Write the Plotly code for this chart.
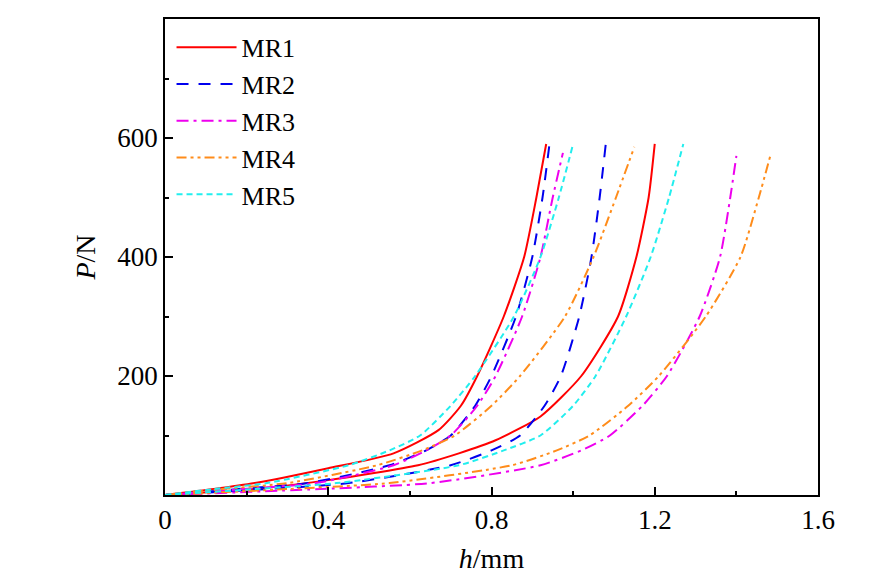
import plotly.graph_objects as go

names = ["MR1", "MR2", "MR3", "MR4", "MR5"]
colors = ["#ff0000", "#0000ee", "#ee00ee", "#ff8c1a", "#22eeee"]
dashes = ["solid", "12px,10px", "12px,5px,3px,5px", "10px,4px,3px,4px,3px,4px", "6px,4px"]

P_left = {
 "MR1": [0, 10, 20, 45, 70, 109, 150, 200, 300, 400, 500, 590],
 "MR2": [0, 10, 20, 50, 75, 100, 150, 200, 300, 400, 500, 595],
 "MR3": [0, 10, 20, 50, 75, 100, 150, 200, 300, 400, 500, 575],
 "MR4": [0, 10, 20, 50, 75, 100, 150, 200, 300, 400, 500, 585],
 "MR5": [0, 10, 20, 50, 75, 100, 150, 200, 300, 400, 500, 590],
}
h_left = {
 "MR1": [0, 0.12, 0.22, 0.40, 0.56, 0.67, 0.725, 0.765, 0.83, 0.88, 0.91, 0.934],
 "MR2": [0, 0.18, 0.35, 0.55, 0.64, 0.70, 0.76, 0.80, 0.86, 0.90, 0.925, 0.943],
 "MR3": [0, 0.19, 0.37, 0.56, 0.64, 0.70, 0.765, 0.81, 0.875, 0.92, 0.95, 0.975],
 "MR4": [0, 0.14, 0.30, 0.52, 0.63, 0.71, 0.80, 0.87, 0.98, 1.05, 1.105, 1.15],
 "MR5": [0, 0.12, 0.25, 0.45, 0.55, 0.625, 0.70, 0.76, 0.855, 0.92, 0.965, 1.0],
}
P_right = {
 "MR1": [0, 10, 25, 50, 70, 92, 132, 200, 300, 400, 500, 590],
 "MR2": [0, 10, 20, 50, 75, 100, 150, 200, 300, 400, 500, 590],
 "MR3": [0, 10, 20, 50, 75, 100, 150, 200, 300, 400, 500, 570],
 "MR4": [0, 10, 20, 50, 75, 100, 150, 200, 300, 400, 500, 575],
 "MR5": [0, 10, 20, 50, 75, 100, 150, 200, 300, 400, 500, 590],
}
h_right = {
 "MR1": [0, 0.22, 0.40, 0.62, 0.72, 0.81, 0.92, 1.02, 1.11, 1.155, 1.185, 1.20],
 "MR2": [0, 0.25, 0.45, 0.70, 0.80, 0.87, 0.93, 0.97, 1.015, 1.045, 1.065, 1.08],
 "MR3": [0, 0.38, 0.65, 0.92, 1.02, 1.09, 1.17, 1.23, 1.31, 1.36, 1.385, 1.40],
 "MR4": [0, 0.30, 0.55, 0.85, 0.96, 1.04, 1.135, 1.21, 1.325, 1.41, 1.455, 1.485],
 "MR5": [0, 0.22, 0.42, 0.72, 0.83, 0.92, 1.0, 1.055, 1.13, 1.19, 1.235, 1.27],
}

FONT = "Liberation Serif, Times New Roman, Times, serif"

fig = go.Figure()
for n, c, d in zip(names, colors, dashes):
    for i, (hx, py) in enumerate([(h_left[n], P_left[n]), (h_right[n], P_right[n])]):
        fig.add_trace(go.Scatter(x=hx, y=py, mode="lines", name=n, legendgroup=n,
                                 showlegend=(i == 0),
                                 line=dict(color=c, dash=d, width=2, shape="spline", smoothing=0.6)))

axis_common = dict(showline=True, linecolor="black", linewidth=1.5, mirror=True,
                   ticks="inside", ticklen=8, tickwidth=1.5, tickcolor="black",
                   showgrid=False, zeroline=False,
                   tickfont=dict(family=FONT, size=27, color="black"),
                   minor=dict(ticks="inside", ticklen=4, tickwidth=1.5, tickcolor="black"))
fig.update_xaxes(range=[0, 1.6], tickvals=[0, 0.4, 0.8, 1.2, 1.6], ticktext=["0", "0.4", "0.8", "1.2", "1.6"],
                 minor_dtick=0.2,
                 title=dict(text="<i>h</i>/mm", font=dict(family=FONT, size=28, color="black"), standoff=14),
                 **axis_common)
fig.update_yaxes(range=[0, 800], tickvals=[200, 400, 600, 800], minor_dtick=100,
                 title=dict(text="<i>P</i>/N", font=dict(family=FONT, size=28, color="black"), standoff=14),
                 **axis_common)
fig.update_layout(width=886, height=588, margin=dict(l=157, r=76, t=9, b=101),
                  plot_bgcolor="white", paper_bgcolor="white",
                  legend=dict(x=0.01, y=0.99, xanchor="left", yanchor="top", bgcolor="rgba(0,0,0,0)",
                              font=dict(family=FONT, size=26, color="black"),
                              tracegroupgap=0, itemwidth=60))
fig.write_html("out.html")
